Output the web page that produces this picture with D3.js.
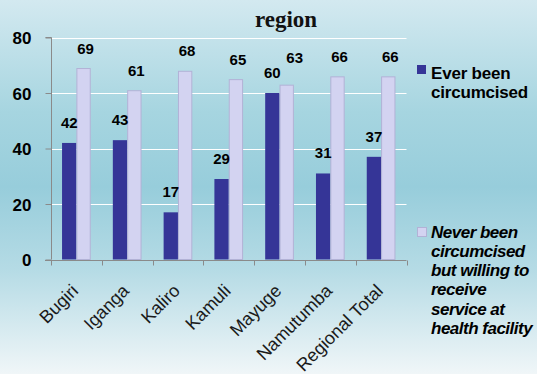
<!DOCTYPE html>
<html>
<head>
<meta charset="utf-8">
<script src="https://cdn.jsdelivr.net/npm/d3@7"></script>
<style>
  html, body { margin: 0; padding: 0; overflow: hidden; }
  svg { display: block; }
</style>
</head>
<body>
<script>
const categories = ["Bugiri", "Iganga", "Kaliro", "Kamuli", "Mayuge", "Namutumba", "Regional Total"];
const everCircumcised = [42, 43, 17, 29, 60, 31, 37];
const neverButWilling = [69, 61, 68, 65, 63, 66, 66];
const yTicks = [0, 20, 40, 60, 80];
const legend1Lines = ["Ever been", "circumcised"];
const legend2Lines = ["Never been", "circumcised", "but willing to", "receive", "service at", "health facility"];
const titleText = "region";

(function () {
const W = 537, H = 374;
const svg = d3.select("body").append("svg").attr("width", W).attr("height", H);

const defs = svg.append("defs");
const grad = defs.append("linearGradient").attr("id", "bg").attr("x1", 0).attr("y1", 0).attr("x2", 0).attr("y2", 1);
[[0, "#d3e9f0"], [0.3, "#a6d5e0"], [0.5, "#97cddb"], [0.72, "#b5dbe5"], [1, "#f0f6f8"]]
  .forEach(([o, c]) => grad.append("stop").attr("offset", o).attr("stop-color", c));
svg.append("rect").attr("width", W).attr("height", H).attr("fill", "url(#bg)");

const pLeft = 51, pRight = 406.5, pTop = 37.5, pBottom = 259.5;

const x = d3.scaleBand().domain(categories).range([pLeft, pRight]).paddingInner(0.435).paddingOuter(0.2175);
const y = d3.scaleLinear().domain([0, 80]).range([pBottom, pTop]);

// gridlines
svg.append("g").selectAll("line").data(yTicks.filter(d => d > 0)).join("line")
  .attr("x1", pLeft).attr("x2", pRight).attr("y1", d => Math.round(y(d)) + 0.5).attr("y2", d => Math.round(y(d)) + 0.5)
  .attr("stroke", "#ffffff").attr("stroke-width", 1);

// title
svg.append("text").attr("x", 286).attr("y", 27).attr("text-anchor", "middle")
  .attr("font-family", "'Liberation Serif', 'Times New Roman', serif")
  .attr("font-weight", "bold").attr("font-size", 23).attr("fill", "#111").text(titleText);

const bw = x.bandwidth() / 2;

// bars
svg.append("g").selectAll("rect").data(categories).join("rect")
  .attr("x", d => x(d)).attr("width", bw)
  .attr("y", (d, i) => y(everCircumcised[i])).attr("height", (d, i) => pBottom - y(everCircumcised[i]))
  .attr("fill", "#353597");
svg.append("g").selectAll("rect").data(categories).join("rect")
  .attr("x", d => x(d) + bw + 0.5).attr("width", bw - 1)
  .attr("y", (d, i) => y(neverButWilling[i]) + 0.5).attr("height", (d, i) => pBottom - y(neverButWilling[i]) - 0.5)
  .attr("fill", "#d3d3f1").attr("stroke", "#b2b2d6").attr("stroke-width", 1);

// y axis
const yAxis = d3.axisLeft(y).tickValues(yTicks).tickSize(6).tickPadding(14);
const gy = svg.append("g").attr("transform", `translate(${pLeft + 0.5},0)`).call(yAxis);
gy.select(".domain").attr("stroke", "#8a8a8a").attr("d", `M-6,${pTop}H0V${pBottom}`);
gy.selectAll(".tick line").attr("stroke", "#8a8a8a");
gy.selectAll(".tick text").attr("font-family", "'Liberation Sans', Arial, sans-serif")
  .attr("font-weight", "bold").attr("font-size", 17).attr("fill", "#000").attr("dy", "0.36em");

// x axis
const gx = svg.append("g").attr("transform", `translate(0,${Math.round(pBottom) + 0.5})`);
gx.append("line").attr("x1", pLeft - 6).attr("x2", pRight).attr("y1", 0).attr("y2", 0).attr("stroke", "#8a8a8a");
const boundaries = categories.map(d => x(d) - x.step() * x.paddingInner() / 2);
boundaries[0] = pLeft;
boundaries.push(pRight);
gx.selectAll("line.tk").data(boundaries).join("line").attr("class", "tk")
  .attr("x1", d => Math.round(d) + 0.5).attr("x2", d => Math.round(d) + 0.5).attr("y1", 0).attr("y2", 5)
  .attr("stroke", "#8a8a8a");

// x labels
svg.append("g").selectAll("text").data(categories).join("text")
  .attr("transform", d => `translate(${x(d) + x.bandwidth() / 2 + 3},292) rotate(-45)`)
  .attr("text-anchor", "end")
  .attr("font-family", "'Liberation Sans', Arial, sans-serif").attr("font-size", 18).attr("fill", "#1a1a1a")
  .text(d => d);

// value labels
const lbl = svg.append("g").attr("font-family", "'Liberation Sans', Arial, sans-serif")
  .attr("font-weight", "bold").attr("font-size", 15).attr("fill", "#000").attr("text-anchor", "middle");
lbl.selectAll("text.a").data(categories).join("text").attr("class", "a")
  .attr("x", d => x(d) + bw / 2).attr("y", (d, i) => y(everCircumcised[i]) - 15)
  .text((d, i) => everCircumcised[i]);
lbl.selectAll("text.b").data(categories).join("text").attr("class", "b")
  .attr("x", d => x(d) + bw * 1.5 + 2)
  .attr("y", (d, i) => {
    const yy = y(neverButWilling[i]) - 14.5;
    const ya = y(everCircumcised[i]) - 15;
    return Math.abs(yy - ya) < 16 ? Math.min(yy, ya - 15) : yy;
  })
  .attr("dx", (d, i) => Math.abs(neverButWilling[i] - everCircumcised[i]) < 6 ? 6 : 0)
  .text((d, i) => neverButWilling[i]);

// legend
const colors = ["#353597", "#d3d3f1"];
const lg = svg.append("g").attr("font-family", "'Liberation Sans', Arial, sans-serif")
  .attr("font-weight", "bold").attr("font-size", 17).attr("fill", "#000");
lg.append("rect").attr("x", 417).attr("y", 65).attr("width", 9).attr("height", 9).attr("fill", colors[0]);
lg.append("text").attr("letter-spacing", -0.2).selectAll("tspan").data(legend1Lines).join("tspan")
  .attr("x", 431).attr("y", (d, i) => 79 + i * 18.5).text(d => d);
lg.append("rect").attr("x", 417.5).attr("y", 227.5).attr("width", 9).attr("height", 9)
  .attr("fill", colors[1]).attr("stroke", "#b2b2d6");
lg.append("text").attr("font-style", "italic").attr("letter-spacing", -0.5).selectAll("tspan").data(legend2Lines).join("tspan")
  .attr("x", 431).attr("y", (d, i) => 237.5 + i * 19.3).text(d => d);
})();
</script>
</body>
</html>
